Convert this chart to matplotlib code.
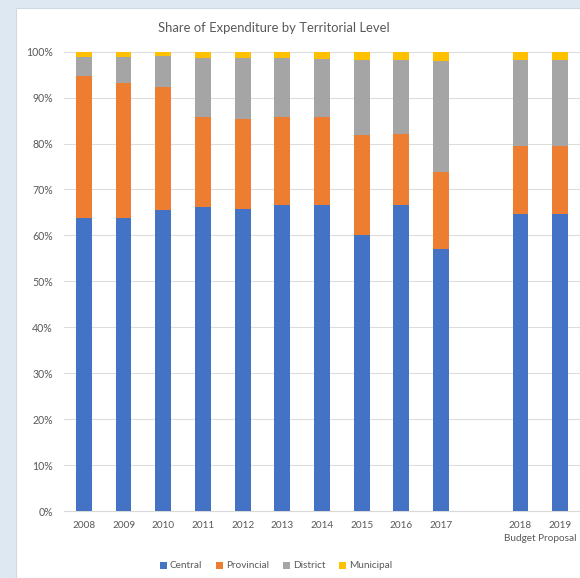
import numpy as np
import matplotlib
matplotlib.use("Agg")
import matplotlib.pyplot as plt
from matplotlib.ticker import FuncFormatter, MultipleLocator
import matplotlib.transforms as mtransforms

years = ['2008', '2009', '2010', '2011', '2012', '2013', '2014', '2015', '2016', '2017', '2018', '2019']
central = [63.7, 63.7, 65.5, 66.1, 65.7, 66.6, 66.6, 60.2, 66.6, 57.0, 64.7, 64.7]
provincial = [31.1, 29.5, 26.9, 19.6, 19.6, 19.2, 19.2, 21.7, 15.5, 16.7, 14.8, 14.7]
district = [4.0, 5.6, 6.7, 13.0, 13.4, 12.9, 12.7, 16.4, 16.2, 24.3, 18.7, 18.8]
municipal = [1.2, 1.2, 0.9, 1.3, 1.3, 1.3, 1.5, 1.7, 1.7, 2.0, 1.8, 1.8]
series_names = ['Central', 'Provincial', 'District', 'Municipal']
group_label = 'Budget Proposal'
title = 'Share of Expenditure by Territorial Level'

colors = ['#4472C4', '#ED7D31', '#A5A5A5', '#FFC000']
FONT = ['Lato', 'DejaVu Sans']
plt.rcParams['font.family'] = FONT
TXT = '#595959'

fig = plt.figure(figsize=(5.80, 5.78), dpi=100)
fig.patch.set_facecolor('#DEE8F3')
# white chart area
bg = plt.Rectangle((16/580, 0), 1 - 16/580, 1 - 8/578, transform=fig.transFigure,
                   facecolor='white', edgecolor='#D0D8E4', linewidth=0.8, zorder=-10)
fig.patches.append(bg)

ax = fig.add_axes([64/580, 67/578, 1 - 64/580, (526.3 - 67)/578])
ax.set_facecolor('none')
ax.set_zorder(1)

idx = np.arange(len(years))
x = idx + (idx >= 10)  # gap before the budget proposal years

data = [central, provincial, district, municipal]
bottom = np.zeros(len(years))
for vals, name, c in zip(data, series_names, colors):
    v = np.array(vals) / 100.0
    ax.bar(x, v, width=0.4, bottom=bottom, color=c, label=name, zorder=3)
    bottom += v

ax.set_xlim(-0.5, 12.5)
ax.set_ylim(0, 1.0)
ax.yaxis.set_major_locator(MultipleLocator(0.1))
ax.yaxis.set_major_formatter(FuncFormatter(lambda v, p: f'{v*100:.0f}%'))
ax.grid(axis='y', color='#DDDDDD', linewidth=0.8, zorder=0)
ax.set_axisbelow(True)
for s in ['top', 'right', 'left']:
    ax.spines[s].set_visible(False)
ax.spines['bottom'].set_color('#D9D9D9')
ax.spines['bottom'].set_linewidth(0.8)
ax.set_xticks(x)
ax.set_xticklabels(years)
ax.tick_params(axis='x', length=0, colors=TXT, labelsize=7.2, pad=7)
ax.tick_params(axis='y', length=0, colors=TXT, labelsize=7.6, pad=8)

trans = mtransforms.blended_transform_factory(ax.transData, ax.transAxes)
ax.text((x[10] + x[11]) / 2, -0.051, group_label, transform=trans, ha='center', va='top',
        fontsize=7.2, color=TXT, clip_on=False)

fig.text(274/580, 1 - 28/578, title, ha='center', va='center', fontsize=9.4, color=TXT)

handles, labels = ax.get_legend_handles_labels()
fig.legend(handles, labels, loc='center', bbox_to_anchor=(276/580, 1 - 566/578), ncol=4,
           frameon=False, fontsize=7.2, handlelength=0.7, handleheight=0.7,
           handletextpad=0.3, columnspacing=1.4, labelcolor=TXT)

fig.savefig('out.png', dpi=100, facecolor=fig.get_facecolor())
